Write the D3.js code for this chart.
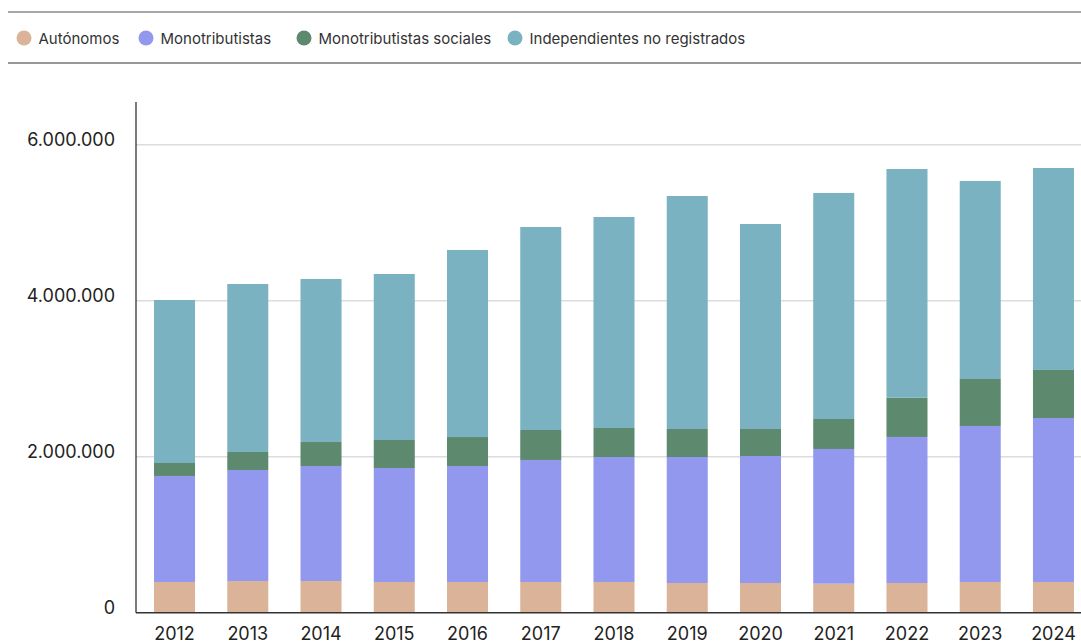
<!DOCTYPE html>
<html>
<head>
<meta charset="utf-8">
<script src="https://cdn.jsdelivr.net/npm/d3@7"></script>
<style>
  html, body { margin: 0; padding: 0; background: #fff; }
  svg { display: block; font-family: Inter, "Noto Sans", sans-serif; }
</style>
</head>
<body>
<svg id="chart" width="1081" height="644"></svg>
<script>
const years = ["2012","2013","2014","2015","2016","2017","2018","2019","2020","2021","2022","2023","2024"];
const seriesNames = ["Autónomos","Monotributistas","Monotributistas sociales","Independientes no registrados"];
const autonomos       = [394000, 406000, 406000, 394000, 394000, 394000, 394000, 381000, 381000, 372000, 381000, 394000, 394000];
const monotributistas = [1359000,1423000,1475000,1461000,1487000,1564000,1602000,1615000,1628000,1727000,1872000,2000000,2102000];
const monoSociales    = [166000, 231000, 307000, 359000, 371000, 384000, 372000, 359000, 346000, 384000, 503000, 602000, 616000];
const independientes  = [2090000,2154000,2090000,2128000,2398000,2603000,2705000,2987000,2628000,2898000,2932000,2539000,2589000];
const yTicks = [0, 2000000, 4000000, 6000000];
const colors = ["#dbb398", "#9198ee", "#5d896e", "#7ab2c1"];

const rows = years.map((y, i) => ({
  year: y,
  [seriesNames[0]]: autonomos[i],
  [seriesNames[1]]: monotributistas[i],
  [seriesNames[2]]: monoSociales[i],
  [seriesNames[3]]: independientes[i]
}));

const svg = d3.select("#chart");
const W = 1081;
const axisX = 136, baseY = 612.7, topY = 102;

const x = d3.scaleBand().domain(years).range([axisX, 1092]).paddingInner(0.44).paddingOuter(0.246);
const y = d3.scaleLinear().domain([0, 6547000]).range([baseY, topY]);
const color = d3.scaleOrdinal().domain(seriesNames).range(colors);

// Legend lines
svg.append("line").attr("x1", 8).attr("x2", W).attr("y1", 12).attr("y2", 12)
  .attr("stroke", "#8a8a8a").attr("stroke-width", 1.5);
svg.append("line").attr("x1", 8).attr("x2", W).attr("y1", 63).attr("y2", 63)
  .attr("stroke", "#333").attr("stroke-width", 1.2);

// Legend
const legendX = [24, 146, 304, 515];
const lg = svg.append("g");
seriesNames.forEach((name, i) => {
  lg.append("circle").attr("cx", legendX[i]).attr("cy", 38).attr("r", 7.5).attr("fill", colors[i]);
  lg.append("text").attr("x", legendX[i] + 14.5).attr("y", 43.5)
    .attr("font-size", 15).attr("fill", "#333").text(name);
});

// Gridlines
svg.append("g").selectAll("line").data(yTicks.filter(d => d > 0)).join("line")
  .attr("x1", axisX).attr("x2", W)
  .attr("y1", d => y(d)).attr("y2", d => y(d))
  .attr("stroke", "#dcdcdc").attr("stroke-width", 1.5);

// Bars
const stack = d3.stack().keys(seriesNames);
const stacked = stack(rows);
svg.append("g").selectAll("g").data(stacked).join("g")
  .attr("fill", d => color(d.key))
  .selectAll("rect").data(d => d).join("rect")
  .attr("x", d => x(d.data.year))
  .attr("width", x.bandwidth())
  .attr("y", d => y(d[1]))
  .attr("height", d => y(d[0]) - y(d[1]));

// Y axis
const fmt = d3.formatLocale({decimal: ",", thousands: ".", grouping: [3], currency: ["$", ""]}).format(",.0f");
const yAxis = d3.axisLeft(y).tickValues(yTicks).tickSize(0).tickFormat(fmt);
const yg = svg.append("g").attr("transform", `translate(${axisX},0)`).call(yAxis);
yg.select(".domain").remove();
yg.selectAll("text").attr("x", -21).attr("dy", "0.07em")
  .attr("font-size", 18).attr("fill", "#222").attr("font-family", "Inter, sans-serif");
svg.append("line").attr("x1", axisX).attr("x2", axisX).attr("y1", topY).attr("y2", baseY)
  .attr("stroke", "#222").attr("stroke-width", 1.2);

// X axis
const xAxis = d3.axisBottom(x).tickSize(0);
const xg = svg.append("g").attr("transform", `translate(0,${baseY})`).call(xAxis);
xg.select(".domain").remove();
xg.selectAll("text").attr("y", 15).attr("dy", "0.71em")
  .attr("font-size", 18).attr("fill", "#222").attr("font-family", "Inter, sans-serif");
svg.append("line").attr("x1", axisX).attr("x2", W).attr("y1", baseY).attr("y2", baseY)
  .attr("stroke", "#333").attr("stroke-width", 1.5);
</script>
</body>
</html>
